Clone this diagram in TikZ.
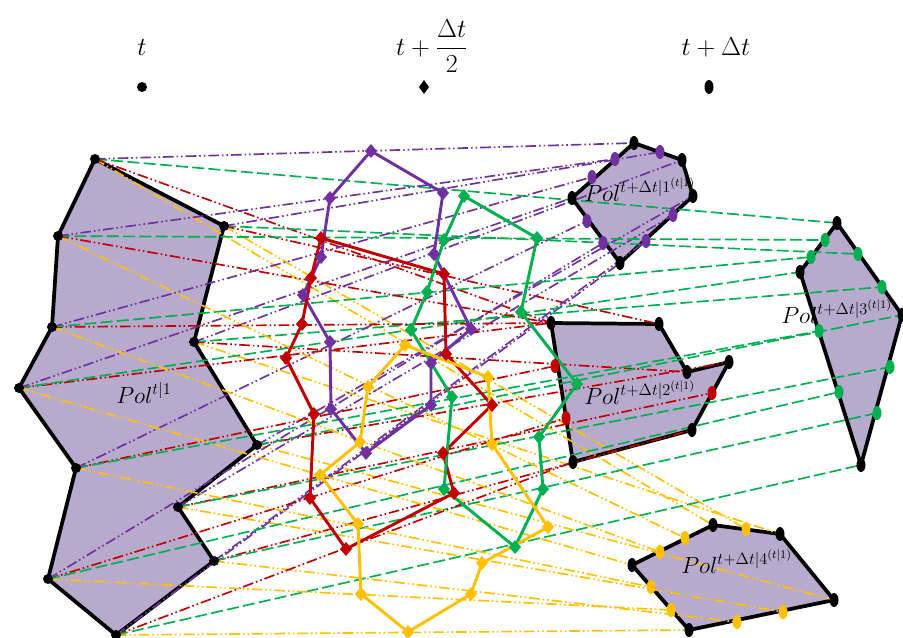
\RequirePackage{fix-cm}
\documentclass[tikz,border=0pt]{standalone}
\usepackage{amsmath}
\definecolor{mypurple}{RGB}{112,48,160}
\definecolor{mygreen}{RGB}{0,176,80}
\definecolor{myred}{RGB}{192,0,0}
\definecolor{myyellow}{RGB}{255,192,0}
\definecolor{myfill}{RGB}{183,170,205}
\tikzset{
	polfl/.style={fill=myfill, draw=black, line width=2.8pt, line join=round},
	zwpol/.style={line width=2.2pt, line join=round},
	bahn/.style={line width=1.25pt, dash pattern=on 8pt off 2.2pt on 1.2pt off 2.2pt on 1.2pt off 2.2pt},
	bahngr/.style={line width=1.25pt, dash pattern=on 9pt off 3.2pt},
	polname/.style={anchor=base west, inner sep=0pt, font=\fontsize{17.5}{21}\selectfont},
	zeitname/.style={anchor=base, inner sep=0pt, font=\fontsize{19.5}{23}\selectfont}
}

\begin{document}
\begin{tikzpicture}[x=0.75pt, y=-0.75pt]
				\useasboundingbox (0,0) rectangle (903,637);
				%Punkte festlegen
				\foreach \i/\x/\y in {1/95/159, 2/224/226, 3/194/342, 4/257/445, 5/178/507, 6/214/561,
					7/116/635, 8/48/579, 9/76/468, 10/19/388, 11/52/327, 12/58/236}
					\coordinate (L\i) at (\x,\y);
				\foreach \i/\x/\y in {1/371/151, 2/443/193, 3/434/254, 4/471/329, 5/431/363, 6/431/405,
					7/366/453, 8/331/409, 9/330/342, 10/303/295, 11/321/257, 12/330/198}
					\coordinate (Pm\i) at (\x,\y);
				\foreach \i/\x/\y in {1/634/143, 2/660/152, 3/682/160, 4/693/196, 5/673/215, 6/646/241,
					7/620/263, 8/603/243, 9/587/221, 10/572/198, 11/592/177, 12/615/159}
					\coordinate (Pt\i) at (\x,\y);
				\foreach \i/\x/\y in {1/321/238, 2/444/274, 3/446/354, 4/492/405, 5/443/453, 6/454/493,
					7/346/549, 8/310/498, 9/314/414, 10/286/358, 11/302/324, 12/311/278}
					\coordinate (Rm\i) at (\x,\y);
				\foreach \i/\x/\y in {1/551/323, 2/659/324, 3/687/372, 4/729/362, 5/712/393, 6/692/430,
					7/573/462, 8/566/418, 9/555/366, 10/551/323, 11/551/323, 12/551/323}
					\coordinate (Rt\i) at (\x,\y);
				\foreach \i/\x/\y in {1/464/196, 2/537/238, 3/521/312, 4/577/384, 5/539/437, 6/543/489,
					7/515/547, 8/444/489, 9/452/397, 10/411/330, 11/427/292, 12/444/240}
					\coordinate (Gm\i) at (\x,\y);
				\foreach \i/\x/\y in {1/837/223, 2/858/254, 3/882/287, 4/902/315, 5/890/367, 6/877/413,
					7/861/465, 8/839/392, 9/819/331, 10/800/272, 11/811/257, 12/825/240}
					\coordinate (Gt\i) at (\x,\y);
				\foreach \i/\x/\y in {1/405/345, 2/488/377, 3/492/444, 4/548/527, 5/482/563, 6/471/594,
					7/408/632, 8/361/594, 9/358/524, 10/320/475, 11/360/442, 12/368/387}
					\coordinate (Ym\i) at (\x,\y);
				\foreach \i/\x/\y in {1/713/525, 2/746/529, 3/780/534, 4/834/600, 5/783/612, 6/737/622,
					7/689/630, 8/671/610, 9/651/587, 10/632/565, 11/660/552, 12/685/538}
					\coordinate (Yt\i) at (\x,\y);
				%Polygone zeichnen
				\draw[polfl] (L1) \foreach \i in {2,...,12} {-- (L\i)} -- cycle;
				\draw[polfl] (Pt1) -- (Pt3) -- (Pt4) -- (Pt7) -- (Pt10) -- cycle;
				\draw[polfl] (Rt1) -- (Rt2) -- (Rt3) -- (Rt4) -- (Rt6) -- (Rt7) -- cycle;
				\draw[polfl] (Gt1) -- (Gt4) -- (Gt7) -- (Gt10) -- cycle;
				\draw[polfl] (Yt1) -- (Yt3) -- (Yt4) -- (Yt7) -- (Yt10) -- cycle;
				%Bahnen zeichnen
				\foreach \i in {1,...,12} {
					\draw[myyellow, bahn] (L\i) -- (Yt\i);
					\draw[myred, bahn] (L\i) -- (Rt\i);
					\draw[mygreen, bahngr] (L\i) -- (Gt\i);
					\draw[mypurple, bahn] (L\i) -- (Pt\i);
				}
				%Zwischenpolygone
				\draw[mypurple, zwpol] (Pm1) \foreach \i in {2,...,12} {-- (Pm\i)} -- cycle;
				\draw[myred, zwpol] (Rm1) \foreach \i in {2,...,12} {-- (Rm\i)} -- cycle;
				\draw[mygreen, zwpol] (Gm1) \foreach \i in {2,...,12} {-- (Gm\i)} -- cycle;
				\draw[myyellow, zwpol] (Ym1) \foreach \i in {2,...,12} {-- (Ym\i)} -- cycle;
				%Markierungen
				\foreach \i in {1,...,12} {
					\fill (L\i) circle (5);
					\fill[mypurple] (Pm\i) +(0,-7) -- +(6,0) -- +(0,7) -- +(-6,0) -- cycle;
					\fill[myred] (Rm\i) +(0,-7) -- +(6,0) -- +(0,7) -- +(-6,0) -- cycle;
					\fill[mygreen] (Gm\i) +(0,-7) -- +(6,0) -- +(0,7) -- +(-6,0) -- cycle;
					\fill[myyellow] (Ym\i) +(0,-7) -- +(6,0) -- +(0,7) -- +(-6,0) -- cycle;
				}
				\foreach \i in {2,5,6,8,9,11,12} \fill[mypurple] (Pt\i) ellipse (4.5 and 7);
				\foreach \i in {5,8,9} \fill[myred] (Rt\i) ellipse (4.5 and 7);
				\foreach \i in {2,3,5,6,8,9,11,12} \fill[mygreen] (Gt\i) ellipse (4.5 and 7);
				\foreach \i in {2,5,6,8,9,11,12} \fill[myyellow] (Yt\i) ellipse (4.5 and 7);
				\foreach \i in {1,3,4,7,10} {
					\fill (Pt\i) ellipse (4.5 and 7);
					\fill (Yt\i) ellipse (4.5 and 7);
				}
				\foreach \i in {1,2,3,4,6,7} \fill (Rt\i) ellipse (4.5 and 7);
				\foreach \i in {1,4,7,10} \fill (Gt\i) ellipse (4.5 and 7);
				%Zeitpunkte
				\coordinate (z0) at (142,87);
				\coordinate (z1) at (424,87);
				\coordinate (z2) at (709,87);
				\fill (z0) circle (5);
				\fill (z1) +(0,-7) -- +(5,0) -- +(0,7) -- +(-5,0) -- cycle;
				\fill (z2) ellipse (4.5 and 7);
				\node[zeitname] (tz0) at (142,55) {$t$};
				\node[zeitname] (tz1) at (432,55) {$t+\dfrac{\Delta t}{2}$};
				\node[zeitname] (tz2) at (716,55) {$t+\Delta t$};
				%Beschriftung
				\node[polname] (n0) at (116,403) {$Pol^{t|1}$};
				\node[polname] (n1) at (584,201) {$Pol^{t+\Delta t|1^{(t|1)}}$};
				\node[polname] (n2) at (584,404) {$Pol^{t+\Delta t|2^{(t|1)}}$};
				\node[polname] (n3) at (781,323) {$Pol^{t+\Delta t|3^{(t|1)}}$};
				\node[polname] (n4) at (681,573) {$Pol^{t+\Delta t|4^{(t|1)}}$};
\end{tikzpicture}
\end{document}
